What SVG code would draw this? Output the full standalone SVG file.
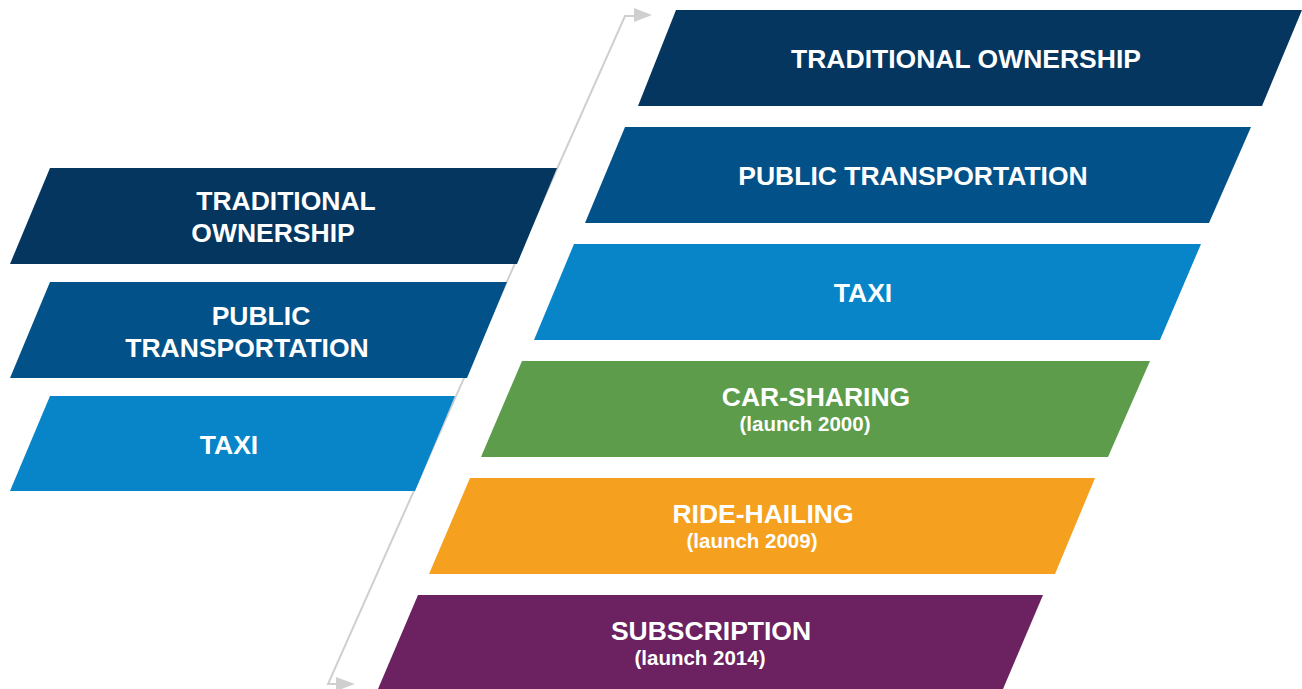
<svg xmlns="http://www.w3.org/2000/svg" width="1302" height="689" viewBox="0 0 1302 689">
  <defs>
    <style>
      .lbl { font-family: "Liberation Sans", Arial, sans-serif; font-weight: bold; fill: #ffffff; text-anchor: middle; }
      .big { font-size: 26.5px; }
      .small { font-size: 20.5px; }
      .conn { fill: none; stroke: #cfcfcf; stroke-width: 2; }
      .head { fill: #cfcfcf; }
    </style>
  </defs>
  <rect width="1302" height="689" fill="#ffffff"/>

  <!-- connector: bottom-left to top-right shift -->
  <g id="connectors">
    <polyline class="conn" points="340,684 328,684 625,16 638,16"/>
    <polygon class="head" points="355,684 336,677 336,691"/>
    <polygon class="head" points="652,15 634,8 634,22"/>
  </g>

  <!-- left column -->
  <g id="left-ownership">
    <polygon points="50,168 557,168 517,264 10,264" fill="#04365f"/>
    <text class="lbl big" x="286" y="210">TRADITIONAL</text>
    <text class="lbl big" x="273" y="242">OWNERSHIP</text>
  </g>
  <g id="left-public">
    <polygon points="50,282 507,282 467,378 10,378" fill="#025289"/>
    <text class="lbl big" x="261" y="325">PUBLIC</text>
    <text class="lbl big" x="247" y="357">TRANSPORTATION</text>
  </g>
  <g id="left-taxi">
    <polygon points="50,396 455,396 415,491 10,491" fill="#0785c8"/>
    <text class="lbl big" x="229" y="454">TAXI</text>
  </g>

  <!-- right column -->
  <g id="right-ownership">
    <polygon points="676,10 1302,10 1262,106 638,106" fill="#04365f"/>
    <text class="lbl big" x="966" y="68">TRADITIONAL OWNERSHIP</text>
  </g>
  <g id="right-public">
    <polygon points="625,127 1251,127 1209,223 585,223" fill="#025289"/>
    <text class="lbl big" x="913" y="185">PUBLIC TRANSPORTATION</text>
  </g>
  <g id="right-taxi">
    <polygon points="574,244 1201,244 1160,340 534,340" fill="#0785c8"/>
    <text class="lbl big" x="863" y="302">TAXI</text>
  </g>
  <g id="right-carsharing">
    <polygon points="522,361 1150,361 1108,457 481,457" fill="#5c9c4a"/>
    <text class="lbl big" x="816" y="406">CAR-SHARING</text>
    <text class="lbl small" x="805" y="431">(launch 2000)</text>
  </g>
  <g id="right-ridehailing">
    <polygon points="470,478 1095,478 1055,574 429,574" fill="#f6a020"/>
    <text class="lbl big" x="763" y="523">RIDE-HAILING</text>
    <text class="lbl small" x="752" y="548">(launch 2009)</text>
  </g>
  <g id="right-subscription">
    <polygon points="418,595 1043,595 1003,689 378,689" fill="#6c2160"/>
    <text class="lbl big" x="711" y="640">SUBSCRIPTION</text>
    <text class="lbl small" x="700" y="665">(launch 2014)</text>
  </g>
</svg>
